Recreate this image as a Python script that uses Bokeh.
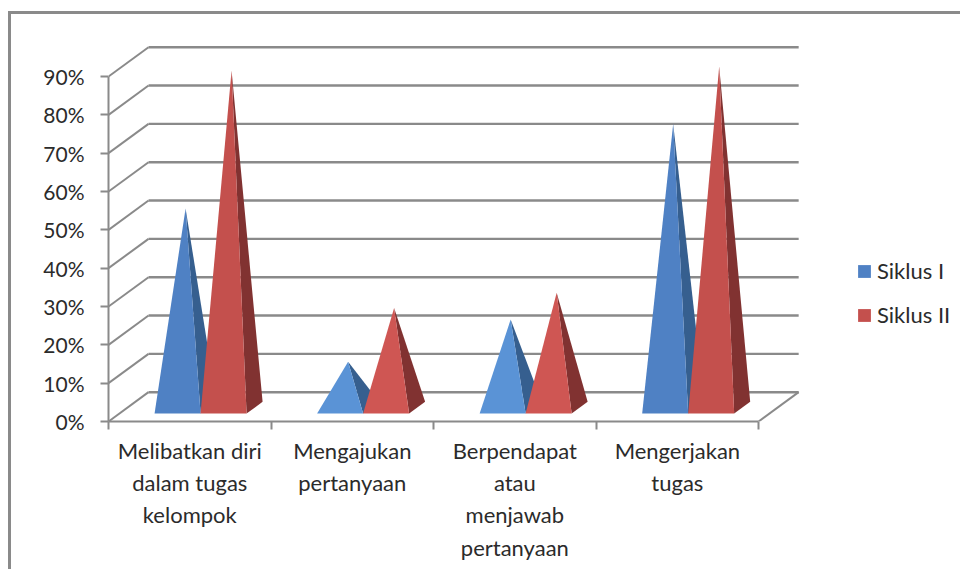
from bokeh.plotting import figure
from bokeh.models import (Range1d, FixedTicker, Legend, LegendItem)
from bokeh.embed import file_html
from bokeh.resources import INLINE

categories = ["Melibatkan diri\ndalam tugas\nkelompok", "Mengajukan\npertanyaan",
              "Berpendapat\natau\nmenjawab\npertanyaan", "Mengerjakan\ntugas"]
siklus_1 = [52, 12, 23, 74]
siklus_2 = [88, 26, 30, 89]
y_ticks = [0, 10, 20, 30, 40, 50, 60, 70, 80, 90]
y_labels = {v: f"{v}%" for v in y_ticks}

FONT = "Lato"
GRAY = "#8a8a8a"
TEXT = "#2b2b2b"
FS = "21px"
FS_X = "22px"

# oblique projection of the 3D box, in data units
DX, DY = 0.2463, 7.65
BAR_W = 0.283
Z0, Z1 = 0.27, 0.67


def proj(x, z, v):
    return x + z * DX, v + z * DY


p = figure(width=949, height=555, frame_width=852, frame_height=381,
           x_range=Range1d(0, 5.242), y_range=Range1d(0, 99.4),
           output_backend="svg", toolbar_location=None,
           min_border_left=97, min_border_top=26, min_border_bottom=148, min_border_right=0,
           margin=(11, 0, 0, 8),
           styles={"border-left": "3px solid " + GRAY, "border-top": "3px solid " + GRAY})
p.grid.visible = False
p.outline_line_color = None
p.background_fill_color = "white"

# back wall gridlines and side wall diagonals
p.multi_line([[proj(0, 1, v)[0], proj(4, 1, v)[0]] for v in y_ticks],
             [[proj(0, 1, v)[1], proj(4, 1, v)[1]] for v in y_ticks],
             line_color=GRAY, line_width=2.4)
p.multi_line([[proj(0, 0, v)[0], proj(0, 1, v)[0]] for v in y_ticks] + [[proj(4, 0, 0)[0], proj(4, 1, 0)[0]]],
             [[proj(0, 0, v)[1], proj(0, 1, v)[1]] for v in y_ticks] + [[proj(4, 0, 0)[1], proj(4, 1, 0)[1]]],
             line_color=GRAY, line_width=2)


def pyramids(values, x_offset):
    fx, fy, sx, sy = [], [], [], []
    for i, val in enumerate(values):
        c = i + 0.5 + x_offset
        l, r = c - BAR_W / 2, c + BAR_W / 2
        zm = (Z0 + Z1) / 2
        ax = proj(c, zm, 0)[0]
        ay = proj(c, zm, 0)[1] + val
        f0 = proj(l, Z0, 0)
        f1 = proj(r, Z0, 0)
        b1 = proj(r, Z1, 0)
        fx.append([f0[0], f1[0], ax])
        fy.append([f0[1], f1[1], ay])
        sx.append([f1[0], b1[0], ax])
        sy.append([f1[1], b1[1], ay])
    return fx, fy, sx, sy


legend_items = []
for cat in range(4):
    for values, off, face, side, name in (
        (siklus_1, -BAR_W / 2, ["#4f81c4", "#5a93d6", "#5a93d6", "#4f81c4"], "#365f8f", "Siklus I"),
        (siklus_2, BAR_W / 2, ["#c4504d", "#cf5653", "#cf5653", "#c4504d"], "#813231", "Siklus II"),
    ):
        fx, fy, sx, sy = pyramids(values, off)
        p.patch(sx[cat], sy[cat], fill_color=side, line_color=None)
        r = p.patch(fx[cat], fy[cat], fill_color=face[cat], line_color=None)
        if cat == 0:
            legend_items.append(LegendItem(label=name, renderers=[r]))

# axes
ya = p.yaxis[0]
ya.ticker = FixedTicker(ticks=y_ticks)
ya.major_label_overrides = y_labels
ya.bounds = (0, 90)
ya.axis_line_color = GRAY
ya.axis_line_width = 2
ya.major_tick_line_color = GRAY
ya.major_tick_line_width = 2
ya.major_tick_in = 0
ya.major_tick_out = 8
ya.minor_tick_line_color = None
ya.major_label_text_font = FONT
ya.major_label_text_font_size = FS
ya.major_label_text_color = TEXT
ya.major_label_standoff = 16

xa = p.xaxis[0]
xa.ticker = FixedTicker(ticks=[i + 0.5 for i in range(4)], minor_ticks=list(range(5)))
xa.major_label_overrides = {i + 0.5: c for i, c in enumerate(categories)}
xa.bounds = (0, 4)
xa.axis_line_color = GRAY
xa.axis_line_width = 2
xa.major_tick_line_color = None
xa.major_tick_in = 0
xa.major_tick_out = 0
xa.minor_tick_line_color = GRAY
xa.minor_tick_line_width = 2
xa.minor_tick_in = 0
xa.minor_tick_out = 8
xa.major_label_text_font = FONT
xa.major_label_text_font_size = FS_X
xa.major_label_text_color = TEXT
xa.major_label_standoff = 7
xa.major_label_orientation = "horizontal"

legend = Legend(items=legend_items, location=(748, 93), orientation="vertical",
                glyph_width=16, glyph_height=16, spacing=17, padding=0, margin=0,
                label_standoff=5, border_line_color=None, background_fill_alpha=0,
                label_text_font=FONT, label_text_font_size=FS_X, label_text_color=TEXT)
p.add_layout(legend, "center")

open("out.html", "w").write(file_html(p, INLINE))
